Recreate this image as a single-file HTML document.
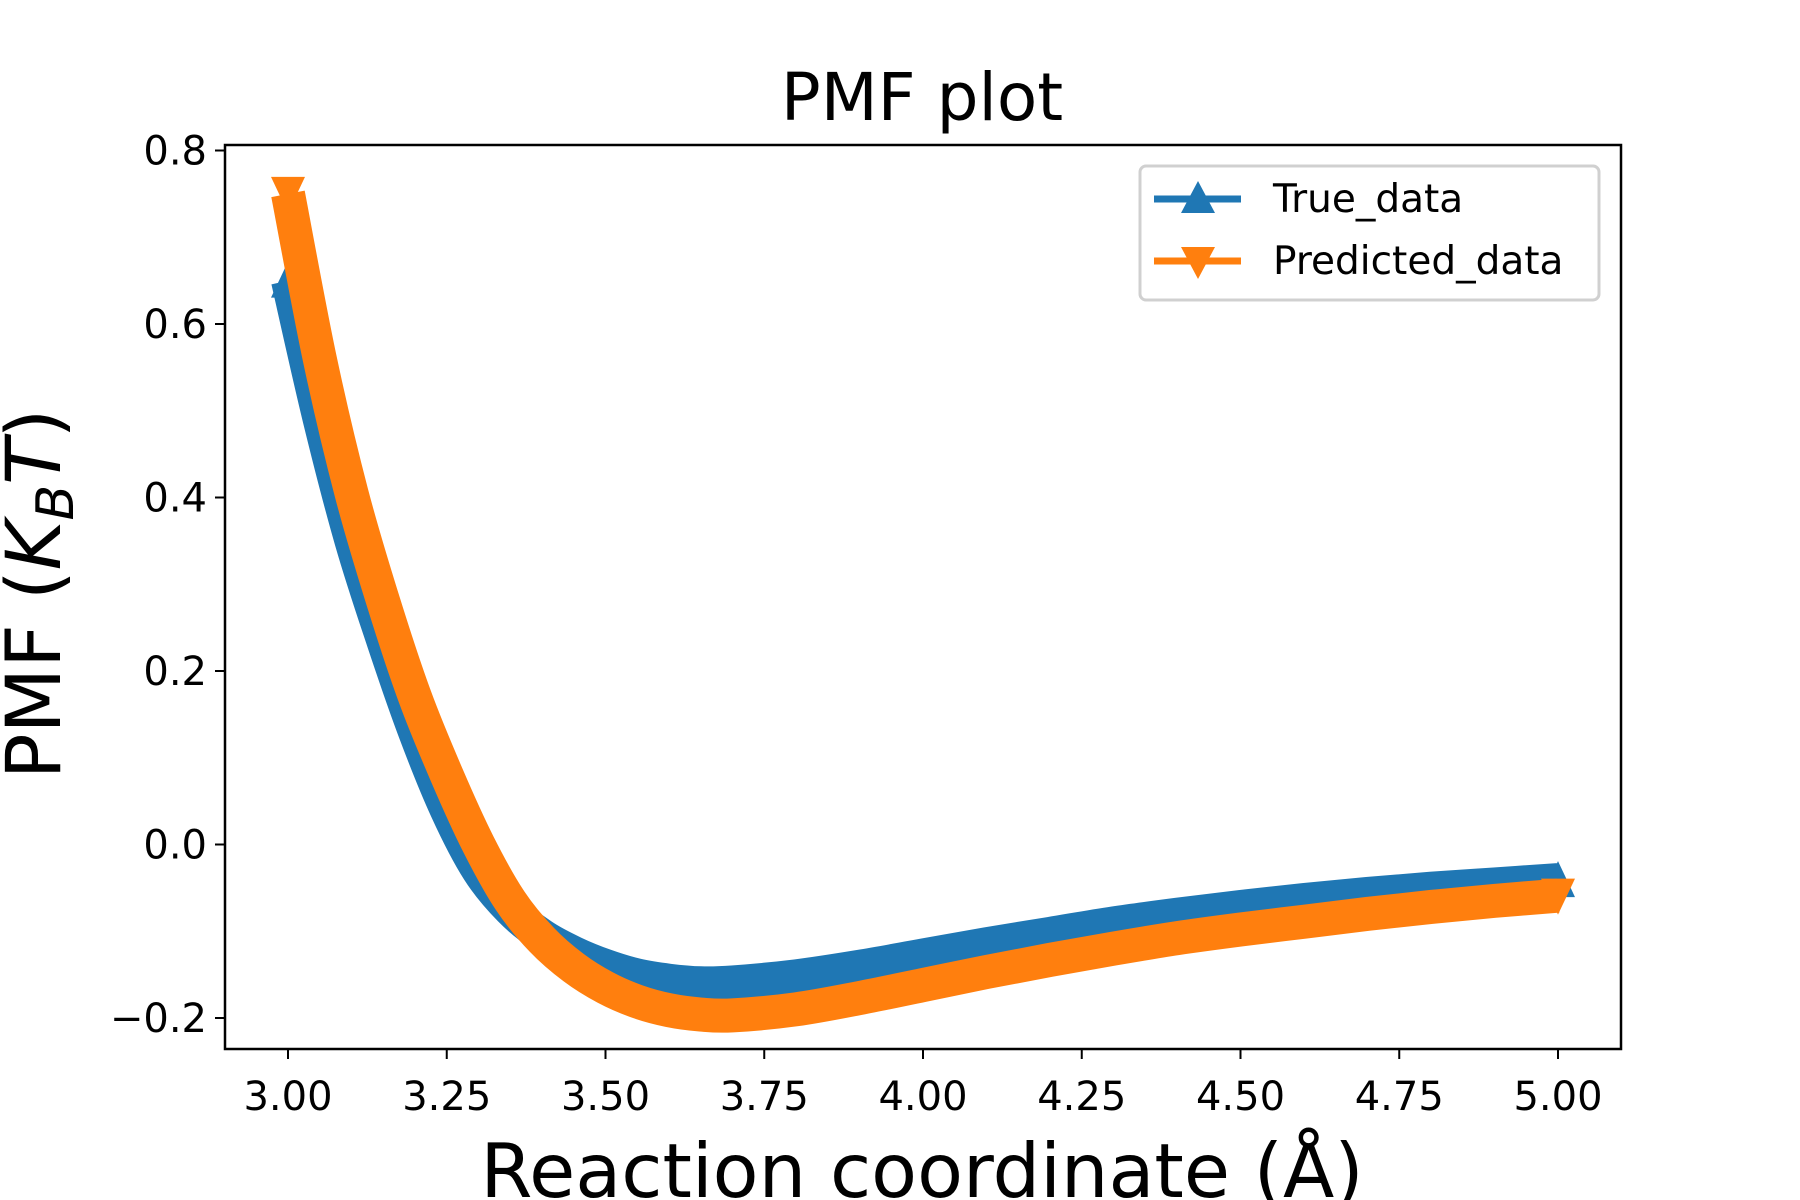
<!DOCTYPE html>
<html><head><meta charset="utf-8"><style>
html,body{margin:0;padding:0;background:#fff}
svg{display:block;font-family:"DejaVu Sans","Liberation Sans",sans-serif}
</style></head><body>
<svg id="chart" width="1800" height="1200" viewBox="0 0 1800 1200">
<rect width="1800" height="1200" fill="#fff"/>
<text x="922" y="120" font-size="66" text-anchor="middle">PMF plot</text>
<g id="plot"></g>
<g id="axes"></g>
<text x="922" y="1197" font-size="75" text-anchor="middle">Reaction coordinate (Å)</text>
<text transform="translate(60,594) rotate(-90)" font-size="76" text-anchor="middle">PMF (<tspan font-style="italic">K</tspan><tspan font-style="italic" font-size="52" dy="13">B</tspan><tspan font-style="italic" dy="-13">T</tspan>)</text>
<g>
<rect x="1140" y="166" width="459" height="134" rx="6" fill="#fff" stroke="#d0d0d0" stroke-width="3"/>
<line x1="1154" y1="199" x2="1241" y2="199" stroke="#1f77b4" stroke-width="7"/>
<polygon points="1198,181 1181,213 1215,213" fill="#1f77b4"/>
<text x="1273" y="212" font-size="39">True_data</text>
<line x1="1154" y1="261" x2="1241" y2="261" stroke="#ff7f0e" stroke-width="7"/>
<polygon points="1198,279 1181,247 1215,247" fill="#ff7f0e"/>
<text x="1273" y="274" font-size="39">Predicted_data</text>
</g>
</svg>
<script>
const xValues=[3.0,3.05,3.1,3.15,3.2,3.25,3.3,3.35,3.4,3.45,3.5,3.55,3.6,3.65,3.7,3.8,3.9,4.0,4.1,4.2,4.3,4.4,4.5,4.6,4.7,4.8,4.9,5.0];
const trueValues=[0.65,0.49,0.35,0.235,0.13,0.04,-0.03,-0.075,-0.105,-0.125,-0.14,-0.151,-0.157,-0.16,-0.159,-0.152,-0.141,-0.128,-0.115,-0.103,-0.091,-0.081,-0.072,-0.064,-0.057,-0.051,-0.046,-0.041];
const predValues=[0.75,0.56,0.405,0.28,0.17,0.08,0.0,-0.065,-0.11,-0.142,-0.165,-0.181,-0.191,-0.196,-0.197,-0.19,-0.177,-0.162,-0.147,-0.133,-0.12,-0.108,-0.098,-0.089,-0.08,-0.072,-0.065,-0.059];
const xTicks=[3.0,3.25,3.5,3.75,4.0,4.25,4.5,4.75,5.0];
const xTickLabels=["3.00","3.25","3.50","3.75","4.00","4.25","4.50","4.75","5.00"];
const yTicks=[-0.2,0,0.2,0.4,0.6,0.8];
const yTickLabels=["\u22120.2","0.0","0.2","0.4","0.6","0.8"];
const L=225,R=1621,T=145,B=1049;
function sx(v){return 288+(v-3)*(1558-288)/2;}
function sy(v){return 1018-(v+0.2)*(1018-150.5)/1.0;}
const NS="http://www.w3.org/2000/svg";
const plot=document.getElementById('plot'),axes=document.getElementById('axes');
function smoothPath(xs,ys){
 const p=xs.map((x,i)=>[sx(x),sy(ys[i])]);
 let d="M"+p[0][0]+","+p[0][1];
 for(let i=0;i<p.length-1;i++){
  const p0=p[i-1]||p[i],p1=p[i],p2=p[i+1],p3=p[i+2]||p2;
  d+=" C"+(p1[0]+(p2[0]-p0[0])/6)+","+(p1[1]+(p2[1]-p0[1])/6)+" "+(p2[0]-(p3[0]-p1[0])/6)+","+(p2[1]-(p3[1]-p1[1])/6)+" "+p2[0]+","+p2[1];
 }
 return d;
}
function series(vals,color,name,up){
 const path=document.createElementNS(NS,'path');
 path.setAttribute('d',smoothPath(xValues,vals));
 path.setAttribute('fill','none');path.setAttribute('stroke',color);
 path.setAttribute('stroke-width','34');path.setAttribute('stroke-linejoin','round');
 
 
 plot.appendChild(path);
 [0,xValues.length-1].forEach(i=>{
  const x=sx(xValues[i]),y=sy(vals[i]);
  const m=document.createElementNS(NS,'polygon');
  m.setAttribute('points',up?`${x},${y-19} ${x-17},${y+17} ${x+17},${y+17}`:`${x},${y+19} ${x-17},${y-17} ${x+17},${y-17}`);
  m.setAttribute('fill',color);
  
  
  plot.appendChild(m);
 });
}
series(trueValues,'#1f77b4','true-data-line',true);
series(predValues,'#ff7f0e','predicted-data-line',false);
const frame=document.createElementNS(NS,'rect');
frame.setAttribute('x',L);frame.setAttribute('y',T);frame.setAttribute('width',R-L);frame.setAttribute('height',B-T);
frame.setAttribute('fill','none');frame.setAttribute('stroke','#000');frame.setAttribute('stroke-width','2.5');


axes.appendChild(frame);
xTicks.forEach((v,i)=>{
 const x=sx(v);
 const t=document.createElementNS(NS,'line');
 t.setAttribute('x1',x);t.setAttribute('x2',x);t.setAttribute('y1',B);t.setAttribute('y2',B+10);t.setAttribute('stroke','#000');t.setAttribute('stroke-width','2');
 
 
 axes.appendChild(t);
 const s=document.createElementNS(NS,'text');
 s.setAttribute('x',x);s.setAttribute('y',B+61);s.setAttribute('font-size','40');s.setAttribute('text-anchor','middle');
 s.textContent=xTickLabels[i];
 
 
 axes.appendChild(s);
});
yTicks.forEach((v,i)=>{
 const y=sy(v);
 const t=document.createElementNS(NS,'line');
 t.setAttribute('x1',L-10);t.setAttribute('x2',L);t.setAttribute('y1',y);t.setAttribute('y2',y);t.setAttribute('stroke','#000');t.setAttribute('stroke-width','2');
 
 
 axes.appendChild(t);
 const s=document.createElementNS(NS,'text');
 s.setAttribute('x',L-18);s.setAttribute('y',y+14);s.setAttribute('font-size','40');s.setAttribute('text-anchor','end');
 s.textContent=yTickLabels[i];
 
 
 axes.appendChild(s);
});
</script>
</body></html>
